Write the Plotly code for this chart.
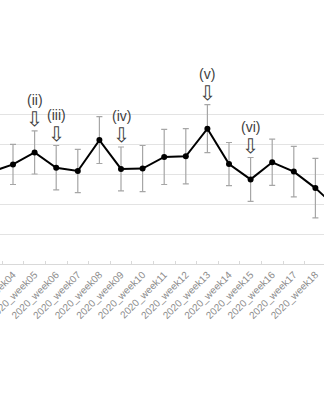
import plotly.graph_objects as go

weeks = ["2020_week03", "2020_week04", "2020_week05", "2020_week06", "2020_week07",
         "2020_week08", "2020_week09", "2020_week10", "2020_week11", "2020_week12",
         "2020_week13", "2020_week14", "2020_week15", "2020_week16", "2020_week17",
         "2020_week18", "2020_week19", "2020_week20"]
values = [3.07, 3.32, 3.72, 3.21, 3.10, 4.13, 3.17, 3.18, 3.57, 3.59,
          4.51, 3.33, 2.82, 3.39, 3.08, 2.53, 1.87, None]
errors = [0.70, 0.67, 0.72, 0.74, 0.72, 0.78, 0.73, 0.77, 0.92, 0.92,
          0.80, 0.72, 0.73, 0.77, 0.84, 0.99, 0.90, None]
event_weeks = ["2020_week05", "2020_week06", "2020_week09", "2020_week13", "2020_week15"]
event_labels = ["(ii)", "(iii)", "(iv)", "(v)", "(vi)"]

fig = go.Figure()
fig.add_trace(go.Scatter(
    x=weeks, y=values,
    mode="lines+markers",
    line=dict(color="black", width=2),
    marker=dict(color="black", size=6),
    error_y=dict(type="data", array=errors, visible=True,
                 color="#a6a6a6", thickness=1.2, width=3),
    showlegend=False,
))

annotations = []
for wk, lab in zip(event_weeks, event_labels):
    i = weeks.index(wk)
    top = values[i] + errors[i]
    annotations.append(dict(x=wk, y=top, xref="x", yref="y", text="⇩",
                            showarrow=False, yanchor="middle", yshift=12,
                            font=dict(family="DejaVu Sans", size=20, color="#404040")))
    annotations.append(dict(x=wk, y=top, xref="x", yref="y", text=lab,
                            showarrow=False, yanchor="middle", yshift=31,
                            font=dict(family="Liberation Sans", size=14, color="#404040")))

fig.update_layout(
    width=324, height=400,
    margin=dict(l=0, r=0, t=84, b=136),
    paper_bgcolor="white", plot_bgcolor="white",
    annotations=annotations,
    xaxis=dict(type="category", categoryorder="array", categoryarray=weeks,
               range=[0.398, 15.398], tickangle=-45, automargin=False,
               showgrid=False, showline=True, linecolor="#d9d9d9", linewidth=1,
               ticks="inside", tickson="boundaries", ticklen=3, tickcolor="#d9d9d9",
               tickfont=dict(family="Liberation Sans", size=10, color="#8c8c8c")),
    yaxis=dict(range=[0, 6], dtick=1, showticklabels=False, automargin=False,
               showgrid=True, gridcolor="#e3e3e3", gridwidth=1, zeroline=False),
)

fig.write_html("out.html")
